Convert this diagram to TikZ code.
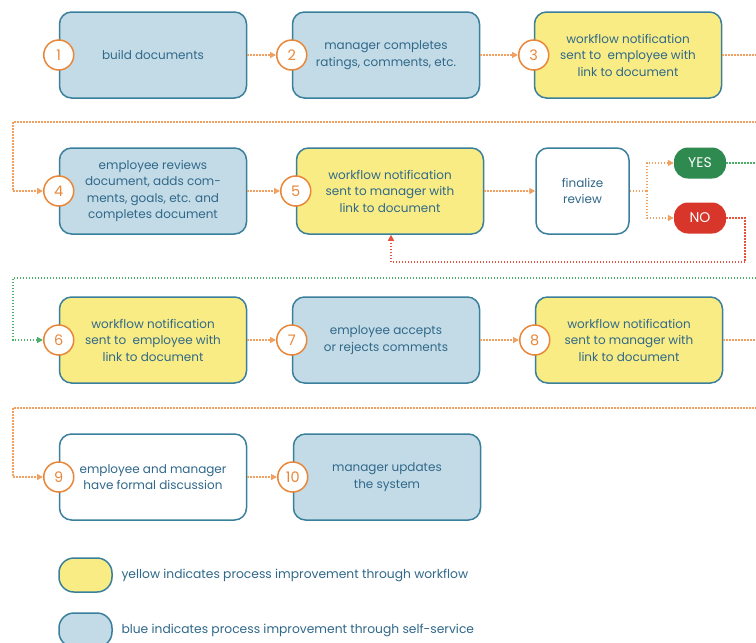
\documentclass[tikz,border=0pt]{standalone}
\usepackage{fontspec}
\setmainfont{Poppins}
\usepackage{tikz}
\usetikzlibrary{arrows.meta}

\definecolor{fillblue}{HTML}{C3DBE6}
\definecolor{fillyellow}{HTML}{F9EC84}
\definecolor{edgeblue}{HTML}{3A7F9C}
\definecolor{txtblue}{HTML}{30688A}
\definecolor{numorange}{HTML}{E8873A}
\definecolor{dotorange}{HTML}{F0A060}
\definecolor{yesgreen}{HTML}{2E8A4F}
\definecolor{dotgreen}{HTML}{4CAF6A}
\definecolor{nored}{HTML}{D8362A}
\definecolor{dotred}{HTML}{E5533F}

\begin{document}
\begin{tikzpicture}[x=1pt, y=-1pt, font=\fontsize{12}{16.5}\selectfont, text=txtblue,
  box/.style={draw=edgeblue, line width=1.5pt, rounded corners=12pt, minimum width=187pt, minimum height=86pt, align=center},
  selfserv/.style={box, fill=fillblue},
  wflow/.style={box, fill=fillyellow},
  plain/.style={box, fill=white},
  num/.style={circle, draw=numorange, line width=1.5pt, fill=white, minimum size=30pt, inner sep=0pt, text=numorange, font=\fontsize{14.5}{14.5}\selectfont},
  pill/.style={rounded corners=14pt, minimum width=52pt, minimum height=31pt, text=white, font=\fontsize{14}{14}\selectfont},
  flow/.style={draw=dotorange, line width=1.3pt, dash pattern=on 1.3pt off 1.7pt, -{Triangle[length=6pt,width=6pt]}},
  key/.style={draw=edgeblue, line width=1.5pt, rounded corners=15pt, minimum width=53pt, minimum height=34pt}]
  \clip (0,0) rectangle (756,643);
  \fill[white] (0,0) rectangle (756,643);

  % row 1
  \node[selfserv] (b1) at (153,55) {build documents};
  \node[selfserv] (b2) at (386,55) {manager completes\\ ratings, comments, etc.};
  \node[wflow] (b3) at (628,55) {workflow notification\\ sent to \ employee with\\ link to document};
  % row 2
  \node[selfserv] (b4) at (153,191) {employee reviews\\ document, adds com-\\ ments, goals, etc. and\\ completes document};
  \node[wflow] (b5) at (390,191) {workflow notification\\ sent to manager with\\ link to document};
  \node[plain, minimum width=93pt] (fin) at (582.5,191) {finalize\\ review};
  \node[pill, fill=yesgreen] (yes) at (700,163) {YES};
  \node[pill, fill=nored] (no) at (700,218) {NO};
  % row 3
  \node[wflow] (b6) at (153,340) {workflow notification\\ sent to \ employee with\\ link to document};
  \node[selfserv] (b7) at (386,340) {employee accepts\\ or rejects comments};
  \node[wflow] (b8) at (629,340) {workflow notification\\ sent to manager with\\ link to document};
  % row 4
  \node[plain] (b9) at (153,477) {employee and manager\\ have formal discussion};
  \node[selfserv] (b10) at (387,477) {manager updates\\ the system};

  % step numbers
  \foreach \i in {1,...,10}
    \node[num] (c\i) at (b\i.west) {\i};

  % connectors
  \draw[flow] (b1) -- (c2);
  \draw[flow] (b2) -- (c3);
  \draw[flow] (b3.east) -- (775,55) -- (775,122) -- (13,122) -- (13,191) -- (c4);
  \draw[flow] (b4) -- (c5);
  \draw[flow] (b5) -- (fin);
  \coordinate (split) at (647,191);
  \draw[flow, -] (fin) -- (split);
  \draw[flow] (split) |- (yes);
  \draw[flow] (split) |- (no);
  \draw[flow, draw=dotgreen] (yes.east) -- (775,163) -- (775,278) -- (13,278) -- (13,340) -- (c6);
  \coordinate (back) at ([xshift=1pt]b5.south);
  \draw[flow, draw=dotred] (no.east) -- (745,218) -- (745,262) -| (back);
  \draw[flow] (b6) -- (c7);
  \draw[flow] (b7) -- (c8);
  \draw[flow] (b8.east) -- (775,340) -- (775,408) -- (13,408) -- (13,477) -- (c9);
  \draw[flow] (b9) -- (c10);

  % legend
  \node[key, fill=fillyellow] (ky) at (85.5,575) {};
  \node[anchor=west, font=\fontsize{12.3}{13}\selectfont] (ty) at (118,575) {yellow indicates process improvement through workflow};
  \node[key, fill=fillblue] (kb) at (85.5,630) {};
  \node[anchor=west, font=\fontsize{12.3}{13}\selectfont] (tb) at (118,630) {blue indicates process improvement through self-service};
\end{tikzpicture}
\end{document}
